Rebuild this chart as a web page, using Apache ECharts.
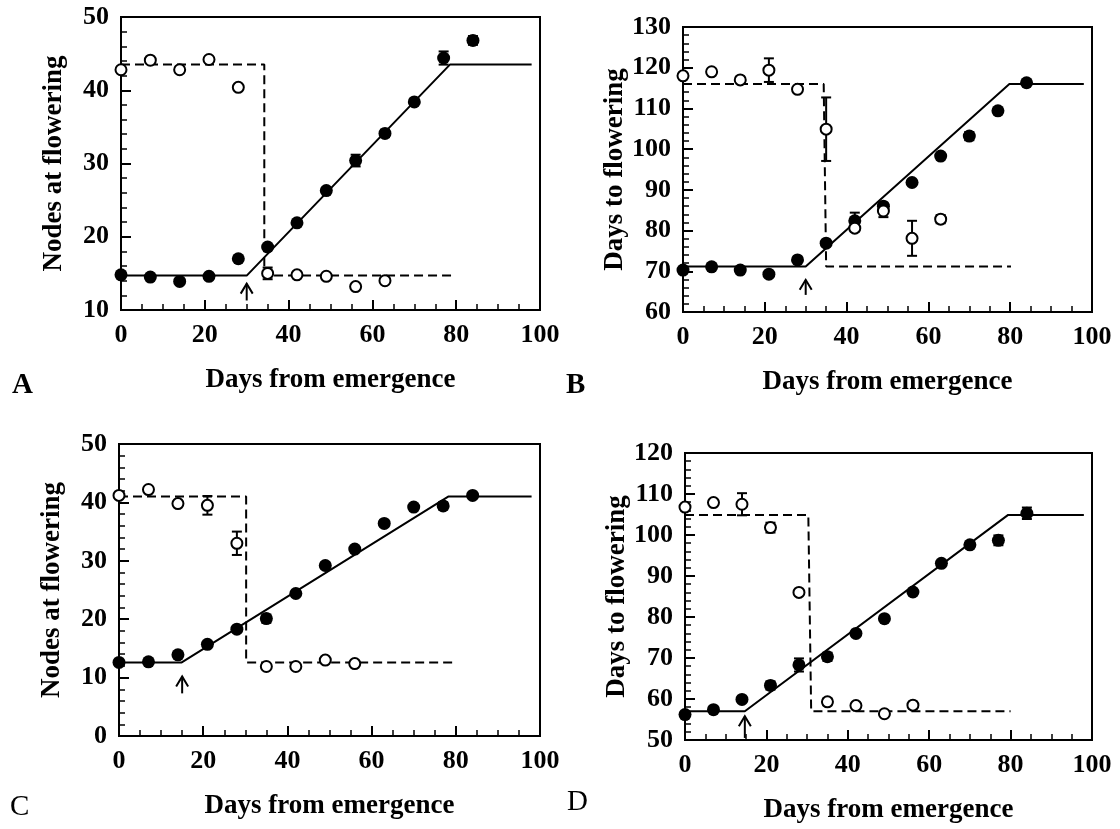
<!DOCTYPE html>
<html>
<head>
<meta charset="utf-8">
<script src="https://cdn.jsdelivr.net/npm/echarts@6/dist/echarts.min.js"></script>
<style>
html,body{margin:0;padding:0;background:#fff;}
#chart{width:1120px;height:829px;}
</style>
</head>
<body>
<div id="chart"></div>
<script>
// ---------- data ----------
const days = [0, 7, 14, 21, 28, 35, 42, 49, 56, 63, 70, 77, 84];
const xTicks = [0, 20, 40, 60, 80, 100];

// Panel A: nodes at flowering
const aFilled    = [14.8, 14.5, 13.9, 14.6, 17.0, 18.6, 21.9, 26.3, 30.4, 34.1, 38.4, 44.4, 46.8];
const aFilledErr = [0, 0, 0, 0, 0, 0, 0, 0, 0.8, 0.5, 0, 0.9, 0.6];
const aOpen      = [42.8, 44.1, 42.8, 44.2, 40.4, 15.0, 14.8, 14.6, 13.2, 14.0];
const aOpenErr   = [0, 0, 0.4, 0, 0, 0.8, 0, 0, 0, 0];
const aSolidX = [0, 30, 78.5, 98];   const aSolidY = [14.7, 14.7, 43.5, 43.5];
const aDashX  = [0, 34.2, 34.2, 79.5]; const aDashY = [43.5, 43.5, 14.7, 14.7];
const aArrow  = [30, 11.3, 13.6];

// Panel B: days to flowering
const bFilled    = [70.3, 71.1, 70.3, 69.3, 72.8, 76.9, 82.4, 86.0, 91.8, 98.3, 103.2, 109.4, 116.3];
const bFilledErr = [0, 0, 0, 0, 0.5, 0, 2.0, 0.8, 0, 0, 1.0, 0, 0];
const bOpen      = [118.0, 119.0, 117.0, 119.4, 114.7, 104.9, 80.6, 84.8, 78.1, 82.8];
const bOpenErr   = [0, 0, 0, 2.9, 0, 7.8, 0.8, 1.5, 4.3, 1.0];
const bSolidX = [0, 30, 79.8, 98];   const bSolidY = [71.2, 71.2, 116.0, 116.0];
const bDashX  = [0, 34.4, 35.0, 80.2]; const bDashY = [116.0, 116.0, 71.2, 71.2];
const bArrow  = [30, 64.2, 67.9];

// Panel C: nodes at flowering
const cFilled    = [12.6, 12.7, 13.9, 15.7, 18.3, 20.1, 24.4, 29.2, 32.0, 36.4, 39.2, 39.4, 41.2];
const cFilledErr = [0, 0, 0, 0, 0.5, 0.7, 0, 0.5, 0, 0.5, 0, 0.6, 0];
const cOpen      = [41.2, 42.2, 39.8, 39.5, 33.0, 11.9, 11.9, 13.0, 12.4];
const cOpenErr   = [0.4, 0.4, 0, 1.6, 2.0, 0, 0, 0.4, 0];
const cSolidX = [0, 14.9, 78.2, 98];   const cSolidY = [12.6, 12.6, 41.0, 41.0];
const cDashX  = [0, 30.2, 30.2, 79.9]; const cDashY = [41.0, 41.0, 12.6, 12.6];
const cArrow  = [15, 7.3, 10.2];

// Panel D: days to flowering
const dFilled    = [56.2, 57.4, 59.9, 63.3, 68.3, 70.3, 76.0, 79.6, 86.1, 93.1, 97.6, 98.7, 105.3];
const dFilledErr = [0, 0, 0, 1.0, 1.6, 1.0, 0, 0, 0, 0, 0, 1.2, 1.4];
const dOpen      = [106.8, 107.9, 107.5, 101.8, 86.0, 59.3, 58.4, 56.4, 58.5];
const dOpenErr   = [0, 0.6, 2.7, 1.2, 0, 0.8, 0, 0, 0.8];
const dSolidX = [0, 14.7, 79.4, 98];   const dSolidY = [57.0, 57.0, 104.9, 104.9];
const dDashX  = [0, 30.3, 31.0, 80.0]; const dDashY = [104.9, 104.9, 57.0, 57.0];
const dArrow  = [14.7, 50.5, 55.8];

const yLabels = ['Nodes at flowering', 'Days to flowering', 'Nodes at flowering', 'Days to flowering'];
const xLabel = 'Days from emergence';
const panelLetters = ['A', 'B', 'C', 'D'];

// ---------- layout ----------
const FONT = 'Liberation Serif';
const grids = [
  {left: 121, top: 17,  width: 419, height: 293},
  {left: 683, top: 27,  width: 409, height: 285},
  {left: 119, top: 444, width: 421, height: 292},
  {left: 685, top: 453, width: 407, height: 287}
];
const yRanges = [[10, 50], [60, 130], [0, 50], [50, 120]];

const panels = [
  {f: aFilled, fe: aFilledErr, o: aOpen, oe: aOpenErr, sx: aSolidX, sy: aSolidY, dx: aDashX, dy: aDashY, ar: aArrow},
  {f: bFilled, fe: bFilledErr, o: bOpen, oe: bOpenErr, sx: bSolidX, sy: bSolidY, dx: bDashX, dy: bDashY, ar: bArrow},
  {f: cFilled, fe: cFilledErr, o: cOpen, oe: cOpenErr, sx: cSolidX, sy: cSolidY, dx: cDashX, dy: cDashY, ar: cArrow},
  {f: dFilled, fe: dFilledErr, o: dOpen, oe: dOpenErr, sx: dSolidX, sy: dSolidY, dx: dDashX, dy: dDashY, ar: dArrow}
];

const gridOpts = grids.map(g => Object.assign({
  show: true, borderColor: '#000', borderWidth: 2, backgroundColor: 'transparent', containLabel: false
}, g));

const xAxes = grids.map((g, i) => ({
  type: 'value', gridIndex: i, min: xTicks[0], max: xTicks[xTicks.length - 1], interval: xTicks[1] - xTicks[0],
  name: xLabel, nameLocation: 'middle', nameGap: 57,
  nameTextStyle: {fontFamily: FONT, fontWeight: 'bold', fontSize: 27, color: '#000'},
  axisLine: {show: true, lineStyle: {color: '#000', width: 2}},
  axisTick: {show: true, inside: true, length: 10, lineStyle: {color: '#000', width: 2}},
  minorTick: {show: true, splitNumber: 4, length: 6, lineStyle: {color: '#000', width: 1.5}},
  splitLine: {show: false}, minorSplitLine: {show: false},
  axisLabel: {fontFamily: FONT, fontWeight: 'bold', fontSize: 26, color: '#000', margin: 12}
}));

const yAxes = grids.map((g, i) => ({
  type: 'value', gridIndex: i, min: yRanges[i][0], max: yRanges[i][1], interval: 10,
  name: yLabels[i], nameLocation: 'middle', nameGap: 53,
  nameTextStyle: {fontFamily: FONT, fontWeight: 'bold', fontSize: 27, color: '#000'},
  axisLine: {show: true, lineStyle: {color: '#000', width: 2}},
  axisTick: {show: true, inside: true, length: 10, lineStyle: {color: '#000', width: 2}},
  minorTick: {show: true, splitNumber: 5, length: 6, lineStyle: {color: '#000', width: 1.5}},
  splitLine: {show: false}, minorSplitLine: {show: false},
  axisLabel: {fontFamily: FONT, fontWeight: 'bold', fontSize: 26, color: '#000', margin: 12}
}));

function errRender(params, api) {
  const x = api.value(0), y = api.value(1), e = api.value(2);
  if (!e) return null;
  const lo = api.coord([x, y - e]), hi = api.coord([x, y + e]);
  const w = 5;
  const st = {stroke: '#000', lineWidth: 2};
  return {type: 'group', children: [
    {type: 'line', shape: {x1: lo[0], y1: lo[1], x2: hi[0], y2: hi[1]}, style: st},
    {type: 'line', shape: {x1: lo[0] - w, y1: lo[1], x2: lo[0] + w, y2: lo[1]}, style: st},
    {type: 'line', shape: {x1: hi[0] - w, y1: hi[1], x2: hi[0] + w, y2: hi[1]}, style: st}
  ]};
}

function arrowRender(params, api) {
  const x = api.value(0), y0 = api.value(1), y1 = api.value(2);
  const b = api.coord([x, y0]), t = api.coord([x, y1]);
  const st = {stroke: '#000', lineWidth: 2, fill: 'none'};
  return {type: 'group', children: [
    {type: 'line', shape: {x1: b[0], y1: b[1], x2: t[0], y2: t[1]}, style: st},
    {type: 'polyline', shape: {points: [[t[0] - 6, t[1] + 10], [t[0], t[1]], [t[0] + 6, t[1] + 10]]}, style: st}
  ]};
}

const series = [];
panels.forEach((p, i) => {
  const ax = {xAxisIndex: i, yAxisIndex: i};
  series.push(Object.assign({
    type: 'line', data: p.sx.map((x, k) => [x, p.sy[k]]), showSymbol: false, symbol: 'none',
    lineStyle: {color: '#000', width: 2}, z: 2, silent: true, animation: false
  }, ax));
  series.push(Object.assign({
    type: 'line', data: p.dx.map((x, k) => [x, p.dy[k]]), showSymbol: false, symbol: 'none',
    lineStyle: {color: '#000', width: 2, type: [9, 5]}, z: 2, silent: true, animation: false
  }, ax));
  series.push(Object.assign({
    type: 'custom', renderItem: errRender, z: 3, animation: false,
    data: p.f.map((v, k) => [days[k], v, p.fe[k]])
  }, ax));
  series.push(Object.assign({
    type: 'custom', renderItem: errRender, z: 3, animation: false,
    data: p.o.map((v, k) => [days[k], v, p.oe[k]])
  }, ax));
  series.push(Object.assign({
    type: 'scatter', data: p.f.map((v, k) => [days[k], v]), symbol: 'circle', symbolSize: 13,
    itemStyle: {color: '#000', borderWidth: 0, opacity: 1}, z: 5, animation: false
  }, ax));
  series.push(Object.assign({
    type: 'scatter', data: p.o.map((v, k) => [days[k], v]), symbol: 'circle', symbolSize: 11,
    itemStyle: {color: '#fff', borderColor: '#000', borderWidth: 2, opacity: 1}, z: 5, animation: false
  }, ax));
  series.push(Object.assign({
    type: 'custom', renderItem: arrowRender, z: 4, animation: false, clip: false,
    data: [p.ar]
  }, ax));
});

const letterPos = [[12, 386], [566, 386], [10, 808], [567, 803]];
const graphic = panelLetters.map((t, i) => ({
  type: 'text', left: letterPos[i][0], top: letterPos[i][1] - 15,
  style: {text: t, font: (i < 2 ? 'bold ' : '') + '29px "' + FONT + '"', fill: '#000'}
}));

const chart = echarts.init(document.getElementById('chart'), null, {renderer: 'canvas'});
chart.setOption({
  animation: false,
  backgroundColor: '#fff',
  grid: gridOpts,
  xAxis: xAxes,
  yAxis: yAxes,
  series: series,
  graphic: graphic
});
</script>
</body>
</html>
